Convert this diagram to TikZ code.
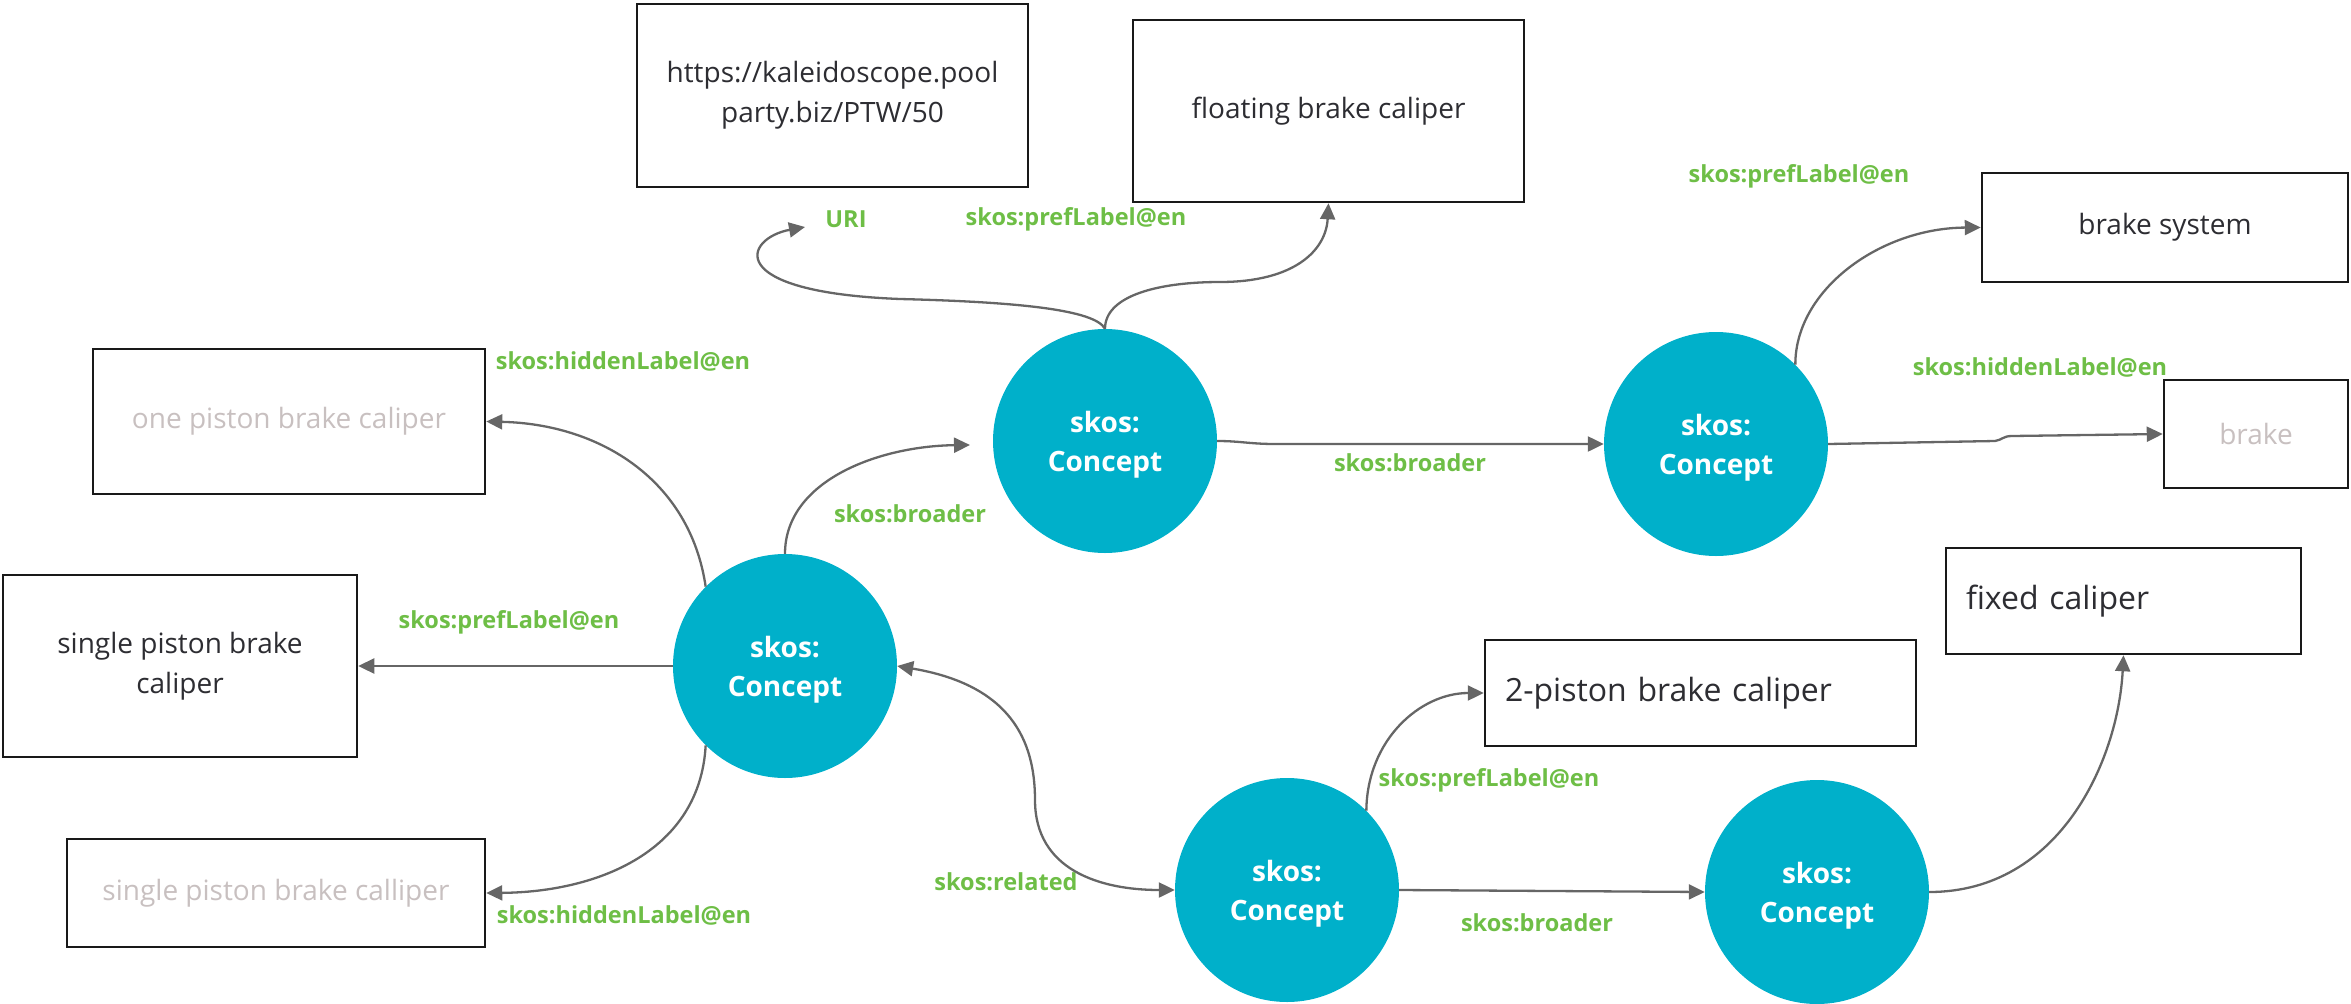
\documentclass[tikz,border=0pt]{standalone}
\usepackage{fontspec}
\setmainfont{Open Sans}
\usetikzlibrary{arrows.meta}
\definecolor{conceptblue}{RGB}{0,176,202}
\definecolor{lblgreen}{RGB}{110,190,70}
\definecolor{greytext}{RGB}{200,192,192}
\definecolor{darktext}{RGB}{45,45,50}
\definecolor{edgegrey}{RGB}{102,102,102}
\tikzset{
  concept/.style={circle, fill=conceptblue, draw=none, minimum size=224pt, inner sep=0pt},
  ctext/.style={text=white, font=\fontsize{28}{39}\selectfont\bfseries, align=center, inner sep=0pt},
  valbox/.style={rectangle, draw=black!90, line width=2.5pt, fill=white, inner sep=0pt,
    text=darktext, font=\fontsize{28}{40}\selectfont, align=center},
  hidbox/.style={valbox, text=greytext},
  leftbox/.style={valbox, inner xsep=20pt, align=left, font=\fontsize{32}{40}\selectfont},
  lbl/.style={text=lblgreen, font=\fontsize{23.5}{28}\selectfont\bfseries, inner sep=0pt},
  rel/.style={draw=edgegrey, line width=2.3pt, -{Triangle[length=16pt,width=15pt]}},
  birel/.style={draw=edgegrey, line width=2.3pt, {Triangle[length=16pt,width=15pt]}-{Triangle[length=16pt,width=15pt]}}
}
\begin{document}
\begin{tikzpicture}[x=1pt,y=-1pt]
\useasboundingbox (0,0) rectangle (2351,1004);

% boxes
\node[valbox, minimum width=391pt, minimum height=183pt] (url) at (832.5,95.5) {https://kaleidoscope.pool\\party.biz/PTW/50};
\node[valbox, minimum width=391pt, minimum height=182pt] (float) at (1328.5,111) {floating brake caliper};
\node[valbox, minimum width=366pt, minimum height=109pt] (bsys) at (2165,227.5) {brake system};
\node[hidbox, minimum width=184pt, minimum height=108pt] (brake) at (2256,434) {brake};
\node[hidbox, minimum width=392pt, minimum height=145pt] (one) at (289,421.5) {one piston brake caliper};
\node[valbox, minimum width=354pt, minimum height=182pt] (single) at (180,666) {single piston brake\\caliper};
\node[hidbox, minimum width=418pt, minimum height=108pt] (calliper) at (276,893) {single piston brake calliper};
\node[leftbox, minimum width=431pt, minimum height=106pt, text width=391pt] (twop) at (1700.5,693) {2-piston brake caliper};
\node[leftbox, minimum width=355pt, minimum height=106pt, text width=315pt] (fixed) at (2123.5,601) {fixed caliper};

% concepts
\node[concept] (c1) at (1105,441) {};
\node[concept] (c2) at (1716,444) {};
\node[concept] (c3) at (785,666) {};
\node[concept] (c4) at (1287,890) {};
\node[concept] (c5) at (1817,892) {};
\node[ctext, yshift=-4pt] (t1) at (c1.center) {skos:\\Concept};
\node[ctext, yshift=-4pt] (t2) at (c2.center) {skos:\\Concept};
\node[ctext, yshift=-4pt] (t3) at (c3.center) {skos:\\Concept};
\node[ctext, yshift=-4pt] (t4) at (c4.center) {skos:\\Concept};
\node[ctext, yshift=-4pt] (t5) at (c5.center) {skos:\\Concept};

% free ends
\coordinate (uriend) at (805,227);
\coordinate (c1in) at (970,445);

% labels
\node[lbl] (lUri) at (846,219) {URI};
\node[lbl] (lPref1) at (1076,219) {skos:prefLabel@en};
\node[lbl] (lPref2) at (1799,176) {skos:prefLabel@en};
\node[lbl] (lHid1) at (2040,367) {skos:hiddenLabel@en};
\node[lbl] (lHid2) at (623,361) {skos:hiddenLabel@en};
\node[lbl] (lBro1) at (910,514) {skos:broader};
\node[lbl] (lPref3) at (509,622) {skos:prefLabel@en};
\node[lbl] (lHid3) at (624,915) {skos:hiddenLabel@en};
\node[lbl] (lBro2) at (1410,463) {skos:broader};
\node[lbl] (lRel) at (1006,882) {skos:related};
\node[lbl] (lPref4) at (1489,780) {skos:prefLabel@en};
\node[lbl] (lBro3) at (1537,923) {skos:broader};

% connectors
\draw[rel] (c1.north) .. controls (1095,310) and (1020,302) .. (900,299)
  .. controls (720,292) and (745,238) .. (uriend);
\draw[rel] (c1.north) .. controls (1105,295) and (1160,282) .. (1220,282)
  .. controls (1295,282) and (1326,250) .. (float.south);
\draw[rel] (c1.east) .. controls (1240,441) and (1250,444) .. (1275,444) -- (c2.west);
\draw[rel] (c2.45) .. controls (1795,290) and (1880,228) .. (bsys.west);
\draw[rel] (c2.east) -- (1995,441) .. controls (2002,440) and (2003,436) .. (2012,436) -- (brake.west);
\draw[rel] (c3.north) .. controls (785,480) and (880,446) .. (c1in);
\draw[rel] (c3.135) .. controls (690,480) and (600,424) .. (one.east);
\draw[rel] (c3.west) -- (single.east);
\draw[rel] (c3.225) .. controls (700,850) and (600,892) .. (calliper.east);
\draw[birel] (c3.east) .. controls (1010,685) and (1035,740) .. (1035,800)
  .. controls (1035,870) and (1100,890) .. (c4.west);
\draw[rel] (c4.45) .. controls (1367,740) and (1420,693) .. (twop.west);
\draw[rel] (c4.east) -- (c5.west);
\draw[rel] (c5.east) .. controls (2060,892) and (2118,760) .. (fixed.south);
\end{tikzpicture}
\end{document}
